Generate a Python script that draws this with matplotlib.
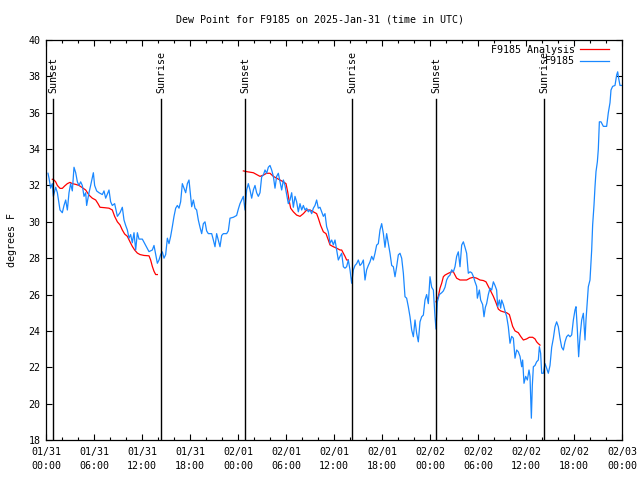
import matplotlib
matplotlib.use("Agg")
import matplotlib.pyplot as plt
import numpy as np

plt.rcParams["font.family"] = ["DejaVu Sans Mono"]

TITLE = "Dew Point for F9185 on 2025-Jan-31 (time in UTC)"

# hours since 2025-01-31 00:00 UTC
obs_hours = [
    0.25, 0.375, 0.58, 0.79, 0.92, 1.21, 1.42, 1.75, 2.04, 2.25, 2.46, 2.67, 2.875, 3.08, 3.29, 3.5,
    3.71, 3.92, 4.125, 4.33, 4.54, 4.75, 4.96, 5.08, 5.375, 5.58, 5.92, 6.08, 6.33, 6.625, 7.04, 7.25,
    7.46, 7.875, 8.08, 8.29, 8.58, 8.92, 9.25, 9.54, 9.75, 9.96, 10.17, 10.375, 10.58, 10.79, 11.0,
    11.21, 11.42, 11.625, 12.04, 12.46, 12.875, 13.29, 13.5, 13.71, 13.92, 14.125, 14.33, 14.54,
    14.75, 14.96, 15.17, 15.375, 15.58, 15.79, 16.0, 16.21, 16.42, 16.625, 16.83, 17.04, 17.25,
    17.46, 17.67, 17.875, 18.21, 18.42, 18.625, 18.83, 19.04, 19.25, 19.46, 19.67, 19.875, 20.08,
    20.29, 20.71, 20.92, 21.125, 21.33, 21.54, 21.75, 21.96, 22.17, 22.58, 22.79, 23.0, 23.42,
    23.83, 24.04, 24.25, 24.46, 24.67, 24.875, 25.08, 25.29, 25.5, 25.71, 25.92, 26.125, 26.33,
    26.54, 26.75, 26.96, 27.17, 27.375, 27.58, 27.79, 28.0, 28.21, 28.42, 28.625, 28.83, 29.04,
    29.25, 29.46, 29.67, 29.875, 30.08, 30.29, 30.5, 30.71, 30.92, 31.125, 31.33, 31.54, 31.75,
    31.96, 32.17, 32.375, 32.58, 32.79, 33.0, 33.21, 33.42, 33.625, 33.83, 34.04, 34.25, 34.46,
    34.67, 34.875, 35.08, 35.29, 35.5, 35.71, 35.92, 36.125, 36.33, 36.54, 36.75, 36.96, 37.17,
    37.375, 37.58, 37.79, 38.0, 38.21, 38.42, 38.625, 38.83, 39.04, 39.25, 39.46, 39.67, 39.875,
    40.08, 40.29, 40.5, 40.71, 40.92, 41.125, 41.33, 41.54, 41.75, 41.96, 42.17, 42.375, 42.58,
    42.79, 43.0, 43.21, 43.42, 43.625, 43.83, 44.04, 44.25, 44.46, 44.67, 44.875, 45.08, 45.29,
    45.5, 45.71, 45.92, 46.125, 46.33, 46.54, 46.75, 46.96, 47.17, 47.375, 47.58, 47.79, 48.0,
    48.21, 48.42, 48.625, 48.75, 48.92, 49.17, 49.46, 49.67, 49.875, 50.08, 50.29, 50.5, 50.71,
    50.92, 51.125, 51.33, 51.54, 51.75, 51.96, 52.17, 52.375, 52.58, 52.79, 53.0, 53.21, 53.42,
    53.625, 53.83, 53.92, 54.17, 54.33, 54.58, 54.75, 54.92, 55.08, 55.29, 55.5, 55.71, 55.92,
    56.125, 56.33, 56.46, 56.67, 56.83, 56.96, 57.17, 57.375, 57.58, 57.79, 58.0, 58.21, 58.42,
    58.625, 58.83, 59.04, 59.25, 59.46, 59.58, 59.75, 59.96, 60.17, 60.375, 60.5, 60.67, 60.79,
    60.92, 61.125, 61.33, 61.54, 61.67, 61.83, 61.96, 62.17, 62.375, 62.58, 62.79, 63.0, 63.21,
    63.42, 63.625, 63.83, 64.04, 64.25, 64.46, 64.67, 64.875, 65.08, 65.29, 65.5, 65.71, 65.92,
    66.125, 66.25, 66.42, 66.58, 66.75, 66.96, 67.17, 67.375, 67.5, 67.67, 67.79, 68.0, 68.08,
    68.21, 68.33, 68.5, 68.625, 68.75, 68.92, 69.04, 69.17, 69.375, 69.67, 70.08, 70.29, 70.5,
    70.625, 70.83, 71.125, 71.33, 71.46, 71.58, 71.75, 71.92,
]
obs_dewpt = [
    32.67, 32.4, 31.85, 32.1, 31.4, 31.9, 31.6, 30.65, 30.5, 30.9, 31.2, 30.65, 31.6, 32.1, 31.7, 33.0,
    32.7, 32.2, 32.0, 32.2, 32.0, 31.4, 31.6, 30.9, 31.6, 32.0, 32.7, 32.0, 31.7, 31.6, 31.5, 31.7,
    31.3, 31.75, 31.1, 30.9, 31.0, 30.3, 30.5, 30.8, 30.1, 29.8, 29.55, 29.1, 29.3, 28.85, 29.4,
    28.45, 29.4, 29.05, 29.05, 28.7, 28.36, 28.45, 28.7, 28.2, 27.72, 27.9, 28.2, 28.35,
    28.0, 28.2, 29.1, 28.8, 29.2, 29.73, 30.3, 30.75, 30.9, 30.75, 31.1, 32.1, 31.85,
    31.6, 32.1, 32.3, 30.83, 31.2, 30.75, 30.65, 30.1, 29.7, 29.35, 29.9, 30.0, 29.5,
    29.35, 29.35, 29.0, 28.63, 29.35, 29.0, 28.63, 29.25, 29.35, 29.35, 29.5, 30.2, 30.25,
    30.35, 30.7, 31.0, 31.2, 31.4, 30.65, 31.75, 32.1, 31.75, 31.3, 31.75, 32.0, 31.6,
    31.4, 31.6, 32.48, 32.57, 32.85, 32.67, 33.0, 33.1, 32.85, 32.5, 31.85, 32.5, 32.67,
    32.2, 31.75, 32.3, 32.0, 31.5, 31.0, 31.2, 31.6, 30.8, 31.4, 31.1, 30.55, 31.0,
    30.65, 30.9, 30.65, 30.75, 30.55, 30.65, 30.45, 30.75, 30.9, 31.2, 30.75, 30.8, 30.55,
    30.3, 30.45, 29.73, 29.45, 28.82, 29.0, 28.73, 29.0, 28.45, 27.9, 28.1, 28.27, 27.53,
    27.45, 27.53, 27.9, 27.36, 26.62, 27.36, 27.6, 27.7, 27.9, 27.6, 27.7, 27.9, 26.8,
    27.36, 27.6, 27.8, 28.1, 27.9, 28.27, 28.72, 28.8, 29.55, 29.9, 29.35, 28.6, 29.35,
    28.8, 28.27, 27.6, 27.53, 26.98, 27.53, 28.18, 28.27, 28.0, 27.17, 25.88, 25.8, 25.33,
    24.78, 24.05, 23.68, 24.6, 23.87, 23.4, 24.5, 24.78, 24.87, 25.7, 26.0, 25.5, 26.98,
    26.4, 26.25, 24.78, 24.1, 25.6, 26.0, 26.1, 26.2, 26.4, 26.8, 26.98, 27.07, 27.36,
    27.25, 27.53, 28.1, 28.35, 27.53, 28.72, 28.9, 28.6, 28.27, 27.17, 27.25, 27.2, 27.0,
    26.7, 26.45, 25.8, 26.25, 25.7, 25.45, 24.78, 25.3, 25.5, 26.0, 26.35, 26.25, 26.7,
    26.5, 26.25, 25.33, 25.7, 25.25, 25.7, 25.45, 25.1, 24.8, 24.23, 23.32, 23.7, 23.6,
    22.5, 22.95, 22.85, 22.6, 22.03, 22.4, 21.12, 21.5, 21.3, 21.85, 21.5, 19.2, 21.0,
    22.03, 22.1, 22.3, 22.4, 23.13, 22.77, 21.67, 21.67, 22.2, 21.95, 21.67, 22.1, 23.1,
    23.6, 24.23, 24.5, 24.23, 23.6, 23.1, 22.95, 23.4, 23.68, 23.78, 23.68, 23.78, 24.6,
    25.15, 25.33, 24.05, 22.58, 23.68, 24.6, 24.97, 23.5, 24.6, 25.7, 26.43, 26.8, 27.44,
    28.45, 29.82, 30.92, 31.93, 32.76, 33.3, 34.0, 35.5, 35.5, 35.25, 35.25, 36.0, 36.55,
    37.25, 37.45, 37.5, 38.07, 38.25, 37.9, 37.5, 37.5,
]

# analysis series, three separate runs (gaps between them)
ana_hours_1 = [0.79, 1.0, 1.21, 1.42, 1.75, 2.04, 2.33, 2.67, 3.0, 3.29, 3.71, 4.125, 4.54, 4.96,
               5.375, 5.79, 6.21, 6.5, 6.75, 7.25, 7.875, 8.29, 8.58, 8.92, 9.25, 9.54, 9.83,
               10.17, 10.5, 10.79, 11.08, 11.42, 11.75, 12.25, 12.875, 13.08, 13.29, 13.5, 13.71, 13.92]
ana_dewpt_1 = [32.34, 32.3, 32.2, 32.0, 31.84, 31.84, 31.97, 32.1, 32.17, 32.1, 32.06, 32.0, 31.88,
               31.75, 31.47, 31.3, 31.2, 31.0, 30.8, 30.78, 30.75, 30.65, 30.3, 30.0, 29.83, 29.55,
               29.33, 29.2, 28.9, 28.65, 28.45, 28.28, 28.2, 28.15, 28.13, 27.9, 27.55, 27.28, 27.1, 27.1]
ana_hours_2 = [24.67, 25.08, 25.5, 25.92, 26.33, 26.75, 27.17, 27.58, 28.0, 28.42, 28.83, 29.25,
               29.67, 30.0, 30.21, 30.375, 30.58, 30.92, 31.33, 31.75, 32.17, 32.58, 33.0, 33.42,
               33.83, 34.04, 34.33, 34.67, 35.0, 35.29, 35.5, 35.92, 36.33, 36.75, 36.96, 37.17,
               37.375, 37.58, 37.79]
ana_dewpt_2 = [32.8, 32.76, 32.73, 32.7, 32.6, 32.5, 32.57, 32.67, 32.67, 32.5, 32.4, 32.3, 32.2,
               32.1, 31.65, 31.2, 30.75, 30.55, 30.37, 30.3, 30.45, 30.65, 30.65, 30.55, 30.45,
               30.2, 29.8, 29.45, 29.35, 29.0, 28.73, 28.63, 28.55, 28.45, 28.45, 28.27, 28.1,
               27.9, 27.9]
ana_hours_3 = [48.75, 49.04, 49.25, 49.46, 49.67, 49.875, 50.29, 50.71, 50.92, 51.125, 51.33,
               51.75, 52.17, 52.58, 53.0, 53.42, 53.83, 54.25, 54.67, 55.0, 55.29, 55.58, 55.92,
               56.25, 56.54, 56.83, 57.17, 57.58, 57.92, 58.08, 58.33, 58.625, 59.04, 59.33,
               59.67, 60.08, 60.42, 60.83, 61.125, 61.33, 61.54, 61.75]
ana_dewpt_3 = [25.6, 25.9, 26.35, 26.62, 26.98, 27.07, 27.17, 27.25, 27.25, 27.07, 26.9, 26.8,
               26.8, 26.8, 26.9, 26.95, 26.9, 26.8, 26.77, 26.7, 26.45, 26.2, 25.9, 25.55, 25.2,
               25.1, 25.05, 25.0, 24.9, 24.65, 24.25, 24.0, 23.9, 23.7, 23.5, 23.56, 23.65, 23.65,
               23.56, 23.4, 23.3, 23.22]

sun_hours = [0.875, 14.375, 24.875, 38.25, 48.75, 62.25]
sun_labels = ["Sunset", "Sunrise", "Sunset", "Sunrise", "Sunset", "Sunrise"]

tick_hours = [0, 6, 12, 18, 24, 30, 36, 42, 48, 54, 60, 66, 72]
tick_labels = ["01/31\n00:00", "01/31\n06:00", "01/31\n12:00", "01/31\n18:00",
               "02/01\n00:00", "02/01\n06:00", "02/01\n12:00", "02/01\n18:00",
               "02/02\n00:00", "02/02\n06:00", "02/02\n12:00", "02/02\n18:00",
               "02/03\n00:00"]

FS = 7.2
RED = "#ff0000"
BLUE = "#1a88ff"

fig = plt.figure(figsize=(6.4, 4.8), dpi=100)
ax = fig.add_axes([46 / 640, 1 - 440 / 480, 576 / 640, 400 / 480])

ax.plot(ana_hours_1, ana_dewpt_1, color=RED, lw=0.9, label="F9185 Analysis")
ax.plot(ana_hours_2, ana_dewpt_2, color=RED, lw=0.9)
ax.plot(ana_hours_3, ana_dewpt_3, color=RED, lw=0.9)
ax.plot(obs_hours, obs_dewpt, color=BLUE, lw=0.9, label="F9185")

for h, lab in zip(sun_hours, sun_labels):
    ax.plot([h, h], [18, 36.75], color="black", lw=1.0)
    ax.text(h, 37.1, lab, rotation=90, ha="center", va="bottom", fontsize=FS)

ax.set_xlim(0, 72)
ax.set_ylim(18, 40)
ax.set_xticks(tick_hours)
ax.set_xticklabels(tick_labels, fontsize=FS, linespacing=1.45)
ax.set_xticks(np.arange(0, 73, 2), minor=True)
ax.set_yticks(np.arange(18, 41, 2))
ax.set_yticklabels([str(v) for v in range(18, 41, 2)], fontsize=FS)
ax.tick_params(which="major", direction="in", length=4.5, width=0.8, top=True, right=True, pad=4)
ax.tick_params(which="minor", direction="in", length=2.5, width=0.8, top=True, right=True)
ax.tick_params(axis="x", which="major", pad=5)
for s in ax.spines.values():
    s.set_linewidth(0.9)

ax.set_ylabel("degrees F", fontsize=FS, labelpad=8)
fig.text(0.5, 1 - 20 / 480, TITLE, ha="center", va="center", fontsize=FS)

handles, labels = ax.get_legend_handles_labels()
ax.legend(handles, labels, loc="upper right", bbox_to_anchor=(1 - 8 / 576, 1),
          frameon=False, markerfirst=False,
          fontsize=FS, handlelength=2.9, handletextpad=0.5, labelspacing=0.15,
          borderaxespad=0.3, borderpad=0.2)

fig.savefig("out.png", dpi=100)
